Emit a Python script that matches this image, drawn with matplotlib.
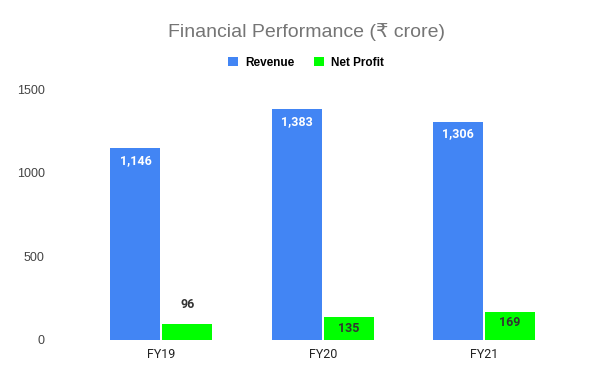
import matplotlib.pyplot as plt
import numpy as np

# Data
years = ['FY19', 'FY20', 'FY21']
revenue = [1146, 1383, 1306]
net_profit = [96, 135, 169]

blue = '#4285f4'
green = '#00ff00'

fig = plt.figure(figsize=(6.12, 3.79), dpi=100)
ax = fig.add_axes([0.132, 0.103, 0.791, 0.662])

x = np.arange(len(years))
w = 0.31
gap = 0.006
b1 = ax.bar(x - w / 2 - gap, revenue, w, color=blue, label='Revenue')
b2 = ax.bar(x + w / 2 + gap, net_profit, w, color=green, label='Net Profit')

ax.set_xlim(-0.5, 2.5)
ax.set_ylim(0, 1500)
ax.set_yticks([0, 500, 1000, 1500])
ax.set_xticks(x)
ax.set_xticklabels(years, fontfamily='Roboto', fontsize=9, color='#222222')
for t in ax.get_yticklabels():
    t.set_fontfamily('Liberation Sans')
    t.set_fontsize(9)
    t.set_color('#444444')
ax.tick_params(length=0)
ax.tick_params(axis='y', pad=26)
ax.tick_params(axis='x', pad=6)
for s in ax.spines.values():
    s.set_visible(False)

# labels: revenue inside (white), profit dark
for rect, v in zip(b1, revenue):
    ax.annotate(f'{v:,}', (rect.get_x() + rect.get_width() / 2, v),
                xytext=(0, -9), textcoords='offset points', ha='center', va='center',
                color='white', fontweight='bold', fontsize=9, fontfamily='Roboto')
for rect, v in zip(b2, net_profit):
    # small bar -> label above, otherwise inside
    off = 14 if v < 110 else -8
    ax.annotate(f'{v:,}', (rect.get_x() + rect.get_width() / 2, v),
                xytext=(0, off), textcoords='offset points', ha='center', va='center',
                color='#333333', fontweight='bold', fontsize=9, fontfamily='Roboto')

fig.text(0.5, 0.915, 'Financial Performance (₹ crore)', ha='center', va='center',
         fontsize=14, color='#757575', fontfamily=['Liberation Sans', 'DejaVu Sans'])

leg = fig.legend(handles=[b1, b2], loc='center', bbox_to_anchor=(0.5, 0.835), ncol=2,
                 frameon=False, handlelength=0.9, handleheight=0.9, handletextpad=0.6,
                 columnspacing=1.6, prop={'family': 'Liberation Sans', 'weight': 'bold', 'size': 8.5})

fig.savefig('out.png', dpi=100)
